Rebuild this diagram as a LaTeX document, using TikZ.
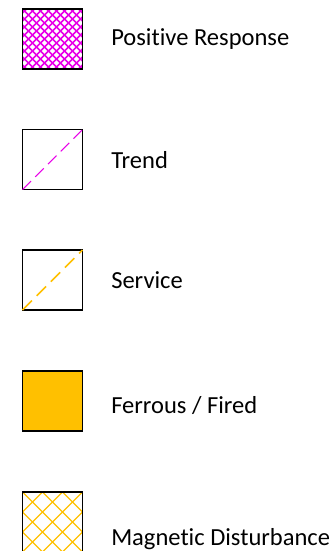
\documentclass[tikz,border=0pt]{standalone}
\usepackage{fontspec}
\setmainfont[Ligatures={NoCommon,NoContextual}]{Carlito}
\definecolor{hatchpink}{RGB}{232,0,232}
\definecolor{gold}{RGB}{255,192,0}
\tikzset{
	legbox/.style={draw=black, line width=1.1pt, minimum width=45pt, minimum height=45pt, inner sep=0pt, outer sep=0pt},
	legtext/.style={anchor=base west, inner sep=0pt, font=\fontsize{18.4}{22}\selectfont},
	crosshatch/.style 2 args={path picture={
			\foreach \k in {-14,...,14}{
				\draw[#1] ([xshift=\k*#2]path picture bounding box.center) ++(-40pt,-40pt) -- ++(80pt,80pt);
				\draw[#1] ([xshift=\k*#2]path picture bounding box.center) ++(-40pt,40pt) -- ++(80pt,-80pt);
			}}},
}
\begin{document}
\begin{tikzpicture}[x=0.75pt,y=0.75pt,yscale=-1]
			\useasboundingbox (0,0) rectangle (335,551);
			
			%Positive Response
			\node[legbox, crosshatch={hatchpink, line width=1.1pt}{6pt}] (pos) at (52.5,39) {};
			%Trend
			\node[legbox] (trend) at (52.5,159.5) {};
			\draw[hatchpink, line width=0.8pt, dash pattern={on 9pt off 4.5pt}] (trend.south west) -- (trend.north east);
			%Service
			\node[legbox] (serv) at (52.5,280) {};
			\draw[gold, line width=1.1pt, dash pattern={on 10pt off 5pt}] (serv.south west) -- (serv.north east);
			%Ferrous / Fired
			\node[legbox, fill=gold] (fer) at (52.5,401) {};
			%Magnetic Disturbance
			\node[legbox, crosshatch={gold, line width=1pt}{15pt}] (mag) at (52.5,522) {};
			
			% Text Node
			\node[legtext] (lblpos) at (111,45) {Positive Response};
			% Text Node
			\node[legtext] (lbltrend) at (111,168) {Trend};
			% Text Node
			\node[legtext] (lblserv) at (111,288) {Service};
			% Text Node
			\node[legtext] (lblfer) at (111,413) {Ferrous / Fired};
			% Text Node
			\node[legtext] (lblmag) at (111,545) {Magnetic Disturbance};
			
\end{tikzpicture}
\end{document}
